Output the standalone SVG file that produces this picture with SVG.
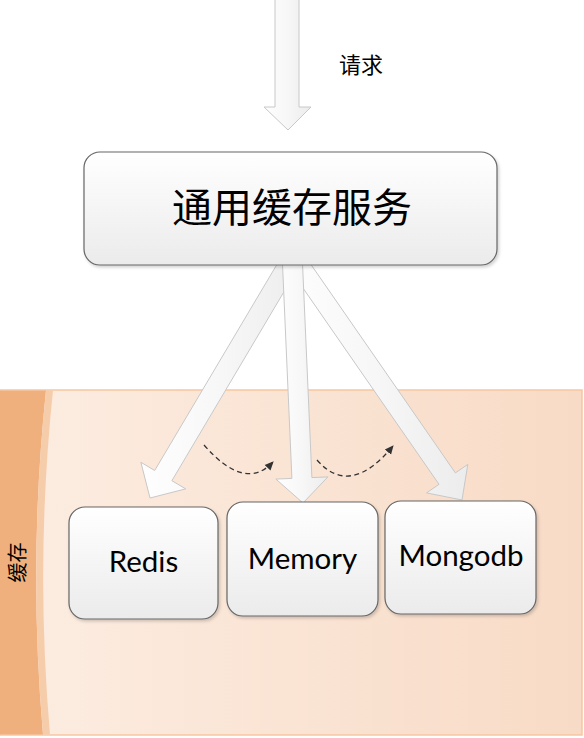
<svg xmlns="http://www.w3.org/2000/svg" width="584" height="738" viewBox="0 0 584 738">
<defs>
<linearGradient id="bg" x1="0" y1="0" x2="1" y2="0">
<stop offset="0" stop-color="#fcede2"/>
<stop offset="1" stop-color="#f8dbc6"/>
</linearGradient>
<linearGradient id="box" x1="0" y1="0" x2="0" y2="1">
<stop offset="0" stop-color="#ffffff"/>
<stop offset="1" stop-color="#ebebeb"/>
</linearGradient>
<linearGradient id="arr" x1="0" y1="0" x2="1" y2="0">
<stop offset="0" stop-color="#fefefe"/>
<stop offset="0.5" stop-color="#f7f7f7"/>
<stop offset="1" stop-color="#ececec"/>
</linearGradient>
<marker id="ah" markerWidth="10" markerHeight="10" refX="8" refY="5" orient="auto" markerUnits="userSpaceOnUse">
<path d="M0,1 L9,5 L0,9 Z" fill="#333"/>
</marker>
<filter id="sh" x="-10%" y="-10%" width="120%" height="130%">
<feDropShadow dx="1.5" dy="2" stdDeviation="1.5" flood-color="#000" flood-opacity="0.18"/>
</filter>
</defs>
<style>
.node{fill:url(#box);stroke:#666;stroke-width:1.2;filter:url(#sh)}
.barrow{fill:url(#arr);stroke:#c8c8c8;stroke-width:1}
.cjk{font-family:"Noto Sans CJK SC",sans-serif;fill:#000}
.lbl{font-family:Lato,"Open Sans",sans-serif;font-size:29.5px;fill:#000;text-anchor:middle}
.dash{fill:none;stroke:#333;stroke-width:1.3;stroke-dasharray:5,3.5}
</style>

<g id="cache-container">
<rect x="0" y="390" width="582" height="345" fill="url(#bg)" stroke="#f7c6a0" stroke-width="1.5"/>
<path d="M0,390.5 L46,390.5 Q28,562 43,734.5 L0,734.5 Z" fill="#efb07e"/>
<path d="M46,390.5 L53,390.5 Q35,562 50,734.5 L43,734.5 Q28,562 46,390.5 Z" fill="#f6cdab"/>
<text class="cjk" font-size="20" text-anchor="middle" transform="translate(25,562.5) rotate(-90)">缓存</text>
</g>

<g id="connectors">
<polygon id="arrow-request" class="barrow" points="275,-2 299,-2 299,107 311,107 288,130 264,107 275,107"/>
<text class="cjk" font-size="22" x="361" y="72.5" text-anchor="middle">请求</text>
<polygon id="arrow-redis" class="barrow" points="287.5,246.6 304.7,256.8 171.9,480.7 185.7,488.9 150,498 140.9,462.3 154.7,470.5"/>
<polygon id="arrow-mongodb" class="barrow" points="282,257.8 298.4,246.4 455.4,472.9 467.8,464.4 462,500 426.6,492.9 439,484.3"/>
<polygon id="arrow-memory" class="barrow" points="282,252.4 302,251.6 311.9,477.6 327.9,476.9 303,503 275.9,479.1 291.9,478.4"/>
<path class="dash" d="M204,445 Q245,492 273,462" marker-end="url(#ah)"/>
<path class="dash" d="M317,460 Q350,498 393,446" marker-end="url(#ah)"/>
</g>

<g id="node-service">
<rect class="node" x="84" y="152" width="413" height="113" rx="16"/>
<text class="cjk" font-size="40" x="292" y="222" text-anchor="middle">通用缓存服务</text>
</g>

<g id="node-redis">
<rect class="node" x="69" y="507" width="149" height="112" rx="16"/>
<text class="lbl" x="143.5" y="572">Redis</text>
</g>

<g id="node-memory">
<rect class="node" x="227" y="502" width="151" height="114" rx="16"/>
<text class="lbl" x="302.5" y="569">Memory</text>
</g>

<g id="node-mongodb">
<rect class="node" x="385" y="501" width="151" height="113" rx="16"/>
<text class="lbl" x="461" y="566">Mongodb</text>
</g>
</svg>
